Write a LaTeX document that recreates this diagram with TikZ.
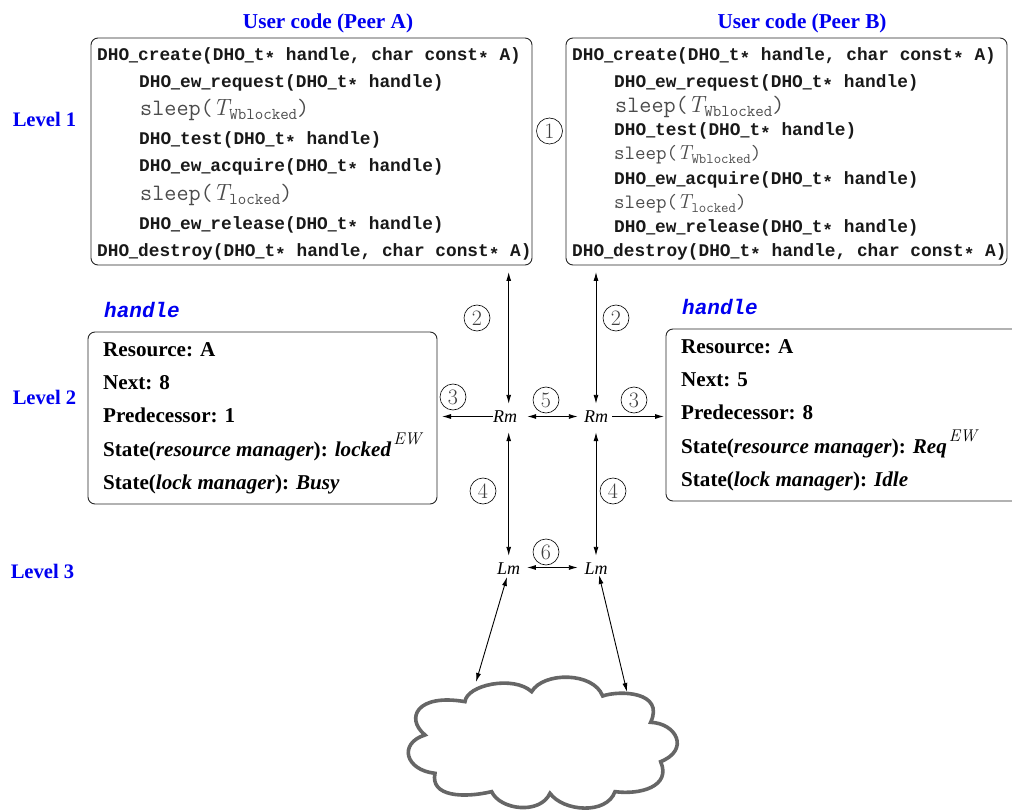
\documentclass[tikz,border=0pt]{standalone}
\usepackage{fontspec}
\usetikzlibrary{arrows.meta}
\newfontfamily\tms{Liberation Serif}
\newfontfamily\cour{Liberation Mono}
\definecolor{lblue}{RGB}{0,0,240}
\newcommand{\us}{{\tms\bfseries\_}}
\newcommand{\st}{\raisebox{-0.22em}{*}}
\newcommand{\ew}{\hspace{2pt}\raisebox{0.55em}{\rmfamily\mdseries\itshape\fontsize{17}{17}\selectfont EW}}
\newcommand{\sleepT}[3]{{\fontsize{#1}{#1}\selectfont\ttfamily sleep({\rmfamily\itshape T}\raisebox{-0.16em}{\fontsize{#2}{#2}\selectfont #3})}}
\tikzset{
  x=1pt,y=-1pt,
  >={Latex[length=9pt,width=5pt]},
  codebox/.style={draw=black!85,line width=0.9pt,rounded corners=7pt},
  code/.style={anchor=base west,inner sep=0pt,font=\cour\bfseries\fontsize{17.8}{18}\selectfont,text=black!90},
  sleepline/.style={anchor=base west,inner sep=0pt,text=black!70},
  title/.style={inner sep=0pt,font=\tms\bfseries\fontsize{21.2}{22}\selectfont,text=lblue},
  lvl/.style={inner sep=0pt,font=\tms\bfseries\fontsize{20.6}{22}\selectfont,text=lblue},
  handlelbl/.style={inner sep=0pt,anchor=base west,font=\cour\bfseries\itshape\fontsize{21}{22}\selectfont,text=lblue},
  field/.style={anchor=base west,inner sep=0pt,font=\tms\bfseries\fontsize{21.1}{22}\selectfont},
  num/.style={draw,circle,line width=0.6pt,minimum size=26pt,inner sep=0pt,font=\fontsize{22}{22}\selectfont,text=black!75},
  mgr/.style={inner sep=0pt,minimum height=26pt,font=\tms\itshape\fontsize{18}{18}\selectfont},
  link/.style={<->,line width=0.9pt},
}
\begin{document}
\begin{tikzpicture}
\useasboundingbox (0,0) rectangle (1012,810);
% titles
\node[title] (ua) at (328,23) {User code (Peer A)};
\node[title] (ub) at (802,23) {User code (Peer B)};
\node[lvl] (l1) at (44.5,119.5) {Level 1};
\node[lvl] (l2) at (44.5,397.5) {Level 2};
\node[lvl] (l3) at (42.5,571.5) {Level 3};
% code boxes
\draw[codebox] (91,38) rectangle (532,265);
\draw[codebox] (566,38) rectangle (1007,265);
% peer A
\node[code] (a1) at (97,61) {DHO\us create(DHO\us t\st{} handle, char const\st{} A)};
\node[code] (a2) at (139,88) {DHO\us ew\us request(DHO\us t\st{} handle)};
\node[sleepline] (a3) at (140,116) {\sleepT{23.5}{16.5}{Wblocked}};
\node[code] (a4) at (139,145) {DHO\us test(DHO\us t\st{} handle)};
\node[code] (a5) at (139,172) {DHO\us ew\us acquire(DHO\us t\st{} handle)};
\node[sleepline] (a6) at (140,201) {\sleepT{23.5}{16.5}{locked}};
\node[code] (a7) at (139,230) {DHO\us ew\us release(DHO\us t\st{} handle)};
\node[code] (a8) at (97,257) {DHO\us destroy(DHO\us t\st{} handle, char const\st{} A)};
% peer B
\node[code] (b1) at (572,61) {DHO\us create(DHO\us t\st{} handle, char const\st{} A)};
\node[code] (b2) at (614,88) {DHO\us ew\us request(DHO\us t\st{} handle)};
\node[sleepline] (b3) at (615,113) {\sleepT{23.5}{16.5}{Wblocked}};
\node[code] (b4) at (614,136) {DHO\us test(DHO\us t\st{} handle)};
\node[sleepline] (b5) at (614,160) {\sleepT{20.4}{14.4}{Wblocked}};
\node[code] (b6) at (614,185) {DHO\us ew\us acquire(DHO\us t\st{} handle)};
\node[sleepline] (b7) at (614,209) {\sleepT{20.4}{14.4}{locked}};
\node[code] (b8) at (614,233) {DHO\us ew\us release(DHO\us t\st{} handle)};
\node[code] (b9) at (572,257) {DHO\us destroy(DHO\us t\st{} handle, char const\st{} A)};
% handles
\node[handlelbl] (ha) at (104,318) {handle};
\node[handlelbl] (hb) at (682,315) {handle};
\draw[codebox] (88,332) rectangle (437,504);
\draw[codebox] (666,329) rectangle (1030,501);
\node[field] (f1) at (103,356) {Resource: A};
\node[field] (f2) at (103,389) {Next: 8};
\node[field] (f3) at (103,422) {Predecessor: 1};
\node[field] (f4) at (103,456) {State(\textit{resource manager}): \textit{locked}\ew};
\node[field] (f5) at (103,489) {State(\textit{lock manager}): \textit{Busy}};
\node[field] (g1) at (681,353) {Resource: A};
\node[field] (g2) at (681,386) {Next: 5};
\node[field] (g3) at (681,419) {Predecessor: 8};
\node[field] (g4) at (681,453) {State(\textit{resource manager}): \textit{Req}\ew};
\node[field] (g5) at (681,486) {State(\textit{lock manager}): \textit{Idle}};
% managers
\node[mgr,minimum width=24pt] (rma) at (505,417) {Rm};
\node[mgr,minimum width=32pt] (rmb) at (596,417) {Rm};
\node[mgr,minimum width=32pt] (lma) at (508.7,569) {Lm};
\node[mgr,minimum width=32pt] (lmb) at (596,569) {Lm};
\coordinate (ta) at (508.7,272);
\coordinate (tb) at (596,272);
\coordinate (la) at (442,416.5);
\coordinate (rb) at (664,416.5);
\coordinate (cla) at (476,682);
\coordinate (clb) at (627,692);
\coordinate (lmafoot) at (507,577);
\coordinate (lmbfoot) at (599,575);
% cloud
\begin{scope}[shift={(400,560)},x=0.3333pt,y=-0.3333pt]
\draw[draw=black!60,fill=white,line width=3.6pt,line join=miter] (195,425)
 .. controls (200,375) and (340,345) .. (395,395)
 .. controls (430,335) and (580,335) .. (608,408)
 .. controls (660,390) and (795,395) .. (752,487)
 .. controls (830,490) and (870,570) .. (782,605)
 .. controls (815,680) and (720,705) .. (645,695)
 .. controls (620,765) and (490,755) .. (450,700)
 .. controls (420,765) and (300,750) .. (275,695)
 .. controls (190,715) and (90,710) .. (105,640)
 .. controls (15,630) and (-5,550) .. (75,525)
 .. controls (15,475) and (50,400) .. (195,425) -- cycle;
\end{scope}
% connectors
\draw[link] ([xshift=3.7pt]rma.north) -- (ta);
\draw[link] (rmb.north) -- (tb);
\draw[->,line width=0.9pt] ([yshift=0.5pt]rma.west) -- (la);
\draw[->,line width=0.9pt] ([yshift=0.5pt]rmb.east) -- (rb);
\draw[link] ([xshift=10pt,yshift=0.5pt]rma.east) -- ([xshift=-2pt,yshift=0.5pt]rmb.west);
\draw[link] ([xshift=3.7pt,yshift=-2pt]rma.south) -- (lma.north);
\draw[link] ([yshift=-2pt]rmb.south) -- (lmb.north);
\draw[link] ([xshift=2pt,yshift=1.5pt]lma.east) -- ([xshift=-2pt,yshift=1.5pt]lmb.west);
\draw[link] (lmafoot) -- (cla);
\draw[link] (lmbfoot) -- (clb);
% numbers
\node[num] (n1) at (549.5,131) {1};
\node[num] (n2a) at (477,318) {2};
\node[num] (n2b) at (616,318) {2};
\node[num] (n3a) at (453,397) {3};
\node[num] (n3b) at (634,400) {3};
\node[num] (n4a) at (483,491) {4};
\node[num] (n4b) at (613,491) {4};
\node[num] (n5) at (546,400) {5};
\node[num] (n6) at (546,552) {6};
\end{tikzpicture}
\end{document}
